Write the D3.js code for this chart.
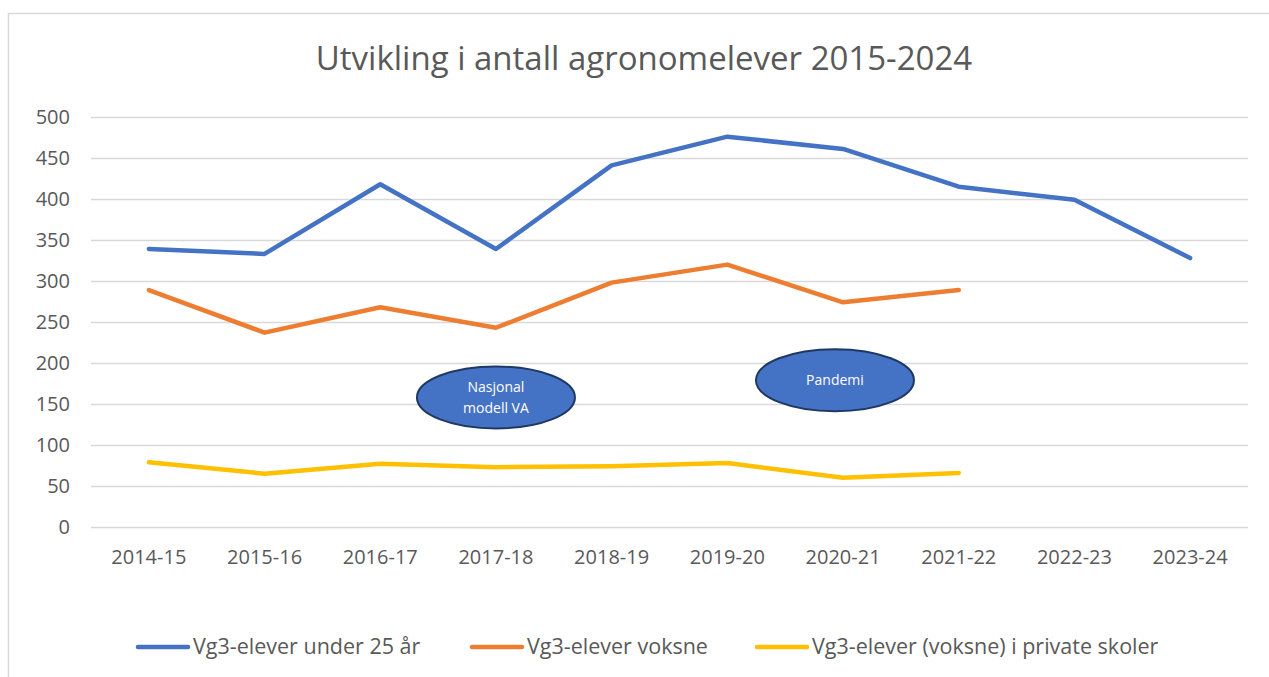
<!DOCTYPE html>
<meta charset="utf-8">
<script src="https://d3js.org/d3.v7.min.js"></script>
<style>
  body { margin: 0; background: #fff; }
  text { font-family: "Open Sans", sans-serif; fill: #595959; }
</style>
<svg id="chart"></svg>
<script>
// data
var years = ["2014-15", "2015-16", "2016-17", "2017-18", "2018-19", "2019-20", "2020-21", "2021-22", "2022-23", "2023-24"];
var under25 = [339, 333, 418, 339, 441, 476, 461, 415, 399, 328];
var voksne = [289, 237, 268, 243, 298, 320, 274, 289];
var privat = [79, 65, 77, 73, 74, 78, 60, 66];
var seriesNames = ["Vg3-elever under 25 år", "Vg3-elever voksne", "Vg3-elever (voksne) i private skoler"];
var yTicks = [0, 50, 100, 150, 200, 250, 300, 350, 400, 450, 500];
// annotation bubbles: category, value, shift within band
var notes = [
  { year: "2017-18", value: 158, shift: 0, lines: ["Nasjonal", "modell VA"] },
  { year: "2020-21", value: 179, shift: -0.07, lines: ["Pandemi"] }
];

var width = 1269, height = 677;
var svg = d3.select("#chart").attr("width", width).attr("height", height);

var colors = ["#4472C4", "#ED7D31", "#FFC000"];
var values = [under25, voksne, privat];

// chart frame
svg.append("path")
  .attr("d", "M8.5,677 L8.5,13.5 L1269,13.5")
  .attr("fill", "none")
  .attr("stroke", "#d9d9d9")
  .attr("stroke-width", 1.5);

var x = d3.scaleBand().domain(years).range([91, 1248]);
var y = d3.scaleLinear().domain([0, 500]).range([527, 117]);

// title
svg.append("text")
  .attr("x", 644).attr("y", 70)
  .attr("text-anchor", "middle")
  .style("font-size", "33px")
  .text("Utvikling i antall agronomelever 2015-2024");

// grid
svg.append("g").selectAll("line")
  .data(yTicks).enter().append("line")
  .attr("x1", 91).attr("x2", 1248)
  .attr("y1", d => Math.round(y(d)) + 0.5)
  .attr("y2", d => Math.round(y(d)) + 0.5)
  .attr("stroke", "#d9d9d9")
  .attr("stroke-width", 1.3);

// y axis labels
svg.append("g").selectAll("text")
  .data(yTicks).enter().append("text")
  .attr("x", 70).attr("y", d => y(d) + 7)
  .attr("text-anchor", "end")
  .style("font-size", "20px")
  .text(d => d);

// x axis labels
svg.append("g").selectAll("text")
  .data(years).enter().append("text")
  .attr("x", d => x(d) + x.bandwidth() / 2)
  .attr("y", 564)
  .attr("text-anchor", "middle")
  .style("font-size", "20px")
  .text(d => d);

// lines
var line = d3.line()
  .x((d, i) => x(years[i]) + x.bandwidth() / 2)
  .y(d => y(d));

svg.append("g").selectAll("path")
  .data(values).enter().append("path")
  .attr("d", d => line(d))
  .attr("fill", "none")
  .attr("stroke", (d, i) => colors[i])
  .attr("stroke-width", 4.5)
  .attr("stroke-linecap", "round")
  .attr("stroke-linejoin", "round");

// annotation ellipses
var ng = svg.append("g").selectAll("g")
  .data(notes).enter().append("g")
  .attr("transform", d => "translate(" + (x(d.year) + x.bandwidth() * (0.5 + d.shift)) + "," + y(d.value) + ")");

ng.append("ellipse")
  .attr("rx", 79).attr("ry", 31)
  .attr("fill", "#4472C4")
  .attr("stroke", "#1f3864")
  .attr("stroke-width", 2);

ng.each(function (d) {
  var g = d3.select(this);
  var n = d.lines.length;
  d.lines.forEach(function (t, i) {
    g.append("text")
      .attr("x", 0)
      .attr("y", (i - (n - 1) / 2) * 21 + 5)
      .attr("text-anchor", "middle")
      .style("font-size", "14px")
      .style("fill", "#ffffff")
      .text(t);
  });
});

// legend
var legendX = [136, 470, 755];
var lg = svg.append("g").selectAll("g")
  .data(seriesNames).enter().append("g")
  .attr("transform", (d, i) => "translate(" + legendX[i] + ",647)");

lg.append("line")
  .attr("x1", 2).attr("x2", 52)
  .attr("stroke", (d, i) => colors[i])
  .attr("stroke-width", 4.5)
  .attr("stroke-linecap", "round");

lg.append("text")
  .attr("x", 57).attr("y", 7)
  .style("font-size", "21.5px")
  .text(d => d);
</script>
